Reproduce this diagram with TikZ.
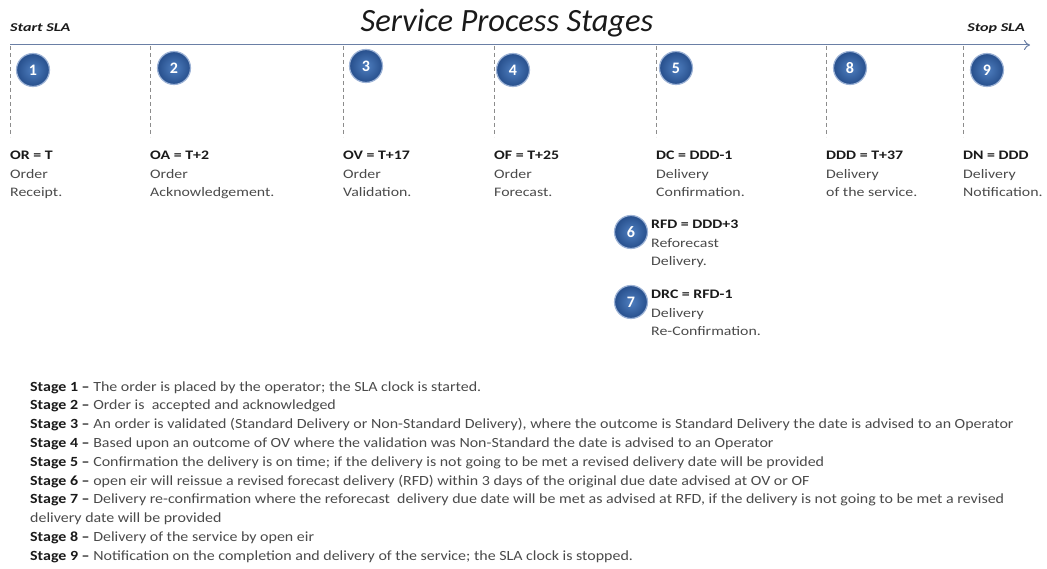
\documentclass[tikz,border=0pt]{standalone}
\usepackage{fontspec}
\setmainfont{Carlito}
\usetikzlibrary{arrows.meta}
\definecolor{axisc}{HTML}{6A7FA5}
\definecolor{dashc}{HTML}{8C8C8C}
\definecolor{ballc}{HTML}{274F8C}
\definecolor{ballin}{HTML}{4F7FC0}
\definecolor{ballrim}{HTML}{9DB3D6}
\definecolor{darktxt}{HTML}{1A1A1A}
\definecolor{greytxt}{HTML}{4A4A4A}
\tikzset{
  ball/.style={circle, minimum size=33pt, inner sep=0pt, draw=ballrim, line width=1.2pt,
    inner color=ballin, outer color=ballc, text=white, font=\fontsize{16}{16}\selectfont\bfseries},
  tick/.style={draw=dashc, dash pattern=on 4pt off 3pt, line width=0.8pt},
  boldl/.style={anchor=base west, inner sep=0pt, text=darktxt, font=\fontsize{13}{19}\selectfont\bfseries},
  plainl/.style={anchor=base west, inner sep=0pt, text=greytxt, font=\fontsize{13}{19}\selectfont},
  descl/.style={anchor=base west, inner sep=0pt, text=greytxt, font=\fontsize{14}{19}\selectfont},
  slal/.style={inner sep=0pt, text=darktxt, font=\fontsize{12}{12}\selectfont\bfseries\itshape},
}
\newcommand{\lx}[1]{\scalebox{1.22}[1]{#1}}
\newcommand{\dx}[1]{\scalebox{1.14}[1]{#1}}
\newcommand{\stagelbl}[6]{%
  \node[boldl] (#1a) at (#2,#3) {\lx{#4}};
  \node[plainl] (#1b) at (#2,#3+18.5) {\lx{#5}};
  \node[plainl] (#1c) at (#2,#3+37) {\lx{#6}};}
\newcommand{\stg}[1]{\textcolor{darktxt}{\bfseries #1}}
\begin{document}
\begin{tikzpicture}[x=1pt,y=-1pt]
\useasboundingbox (0,0) rectangle (1047,569);
% title
\node[anchor=base, inner sep=0pt, text=darktxt, font=\fontsize{32.5}{33}\selectfont\itshape] (title) at (507,31.5) {Service Process Stages};
\node[slal, anchor=base west] (start) at (10,32) {\scalebox{1.34}[1]{Start SLA}};
\node[slal, anchor=base east] (stop) at (1025,32) {\scalebox{1.34}[1]{Stop SLA}};
% axis
\coordinate (ax0) at (10,45);
\coordinate (ax1) at (1030,45);
\draw[axisc, line width=1pt, -{To[length=6pt,width=10pt]}] (ax0) -- (ax1);
% ticks
\foreach \i/\x in {1/10,2/150,3/343,4/494,5/656,8/826,9/963}{
  \coordinate (tt\i) at (\x,46);
  \coordinate (tb\i) at (\x,137);
  \draw[tick] (tt\i) -- (tb\i);
}
% balls
\node[ball] (s1) at (33,70) {1};
\node[ball] (s2) at (174,68) {2};
\node[ball] (s3) at (366,66) {3};
\node[ball] (s4) at (513,70) {4};
\node[ball] (s5) at (676,68) {5};
\node[ball] (s8) at (850,68) {8};
\node[ball] (s9) at (987,70) {9};
\node[ball] (s6) at (631,232) {6};
\node[ball] (s7) at (631,302) {7};
% labels
\stagelbl{l1}{10}{160}{OR = T}{Order}{Receipt.}
\stagelbl{l2}{150}{160}{OA = T+2}{Order}{Acknowledgement.}
\stagelbl{l3}{343}{160}{OV = T+17}{Order}{Validation.}
\stagelbl{l4}{494}{160}{OF = T+25}{Order}{Forecast.}
\stagelbl{l5}{656}{160}{DC = DDD-1}{Delivery}{Confirmation.}
\stagelbl{l8}{826}{160}{DDD = T+37}{Delivery}{of the service.}
\stagelbl{l9}{963}{160}{DN = DDD}{Delivery}{Notification.}
\stagelbl{l6}{651}{229}{RFD = DDD+3}{Reforecast}{Delivery.}
\stagelbl{l7}{651}{299}{DRC = RFD-1}{Delivery}{Re-Confirmation.}
% stage descriptions
\node[descl] (d1) at (30,391) {\dx{\stg{Stage 1 –} The order is placed by the operator; the SLA clock is started.}};
\node[descl] (d2) at (30,409.8) {\dx{\stg{Stage 2 –} Order is\ \ accepted and acknowledged}};
\node[descl] (d3) at (30,428.6) {\dx{\stg{Stage 3 –} An order is validated (Standard Delivery or Non-Standard Delivery), where the outcome is Standard Delivery the date is advised to an Operator}};
\node[descl] (d4) at (30,447.4) {\dx{\stg{Stage 4 –} Based upon an outcome of OV where the validation was Non-Standard the date is advised to an Operator}};
\node[descl] (d5) at (30,466.2) {\dx{\stg{Stage 5 –} Confirmation the delivery is on time; if the delivery is not going to be met a revised delivery date will be provided}};
\node[descl] (d6) at (30,485) {\dx{\stg{Stage 6 –} open eir will reissue a revised forecast delivery (RFD) within 3 days of the original due date advised at OV or OF}};
\node[descl] (d7) at (30,503.8) {\dx{\stg{Stage 7 –} Delivery re-confirmation where the reforecast\ \ delivery due date will be met as advised at RFD, if the delivery is not going to be met a revised}};
\node[descl] (d7b) at (30,522.6) {\dx{delivery date will be provided}};
\node[descl] (d8) at (30,541.4) {\dx{\stg{Stage 8 –} Delivery of the service by open eir}};
\node[descl] (d9) at (30,560.2) {\dx{\stg{Stage 9 –} Notification on the completion and delivery of the service; the SLA clock is stopped.}};
\end{tikzpicture}
\end{document}
